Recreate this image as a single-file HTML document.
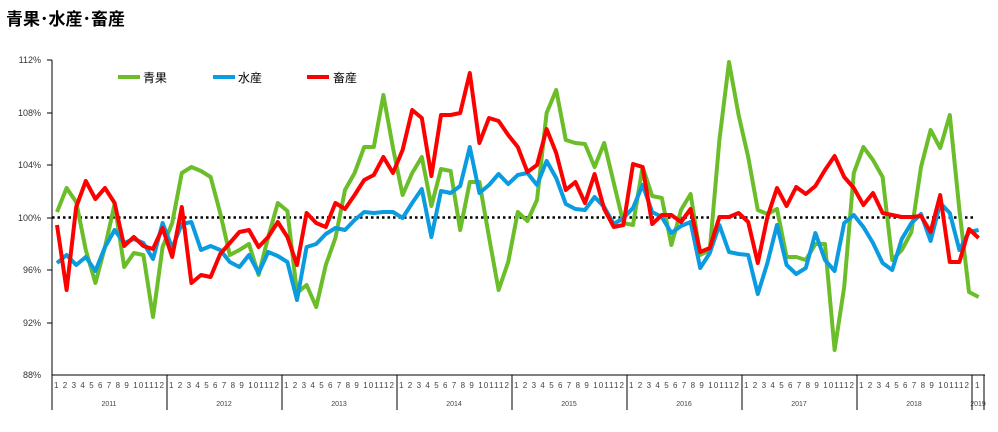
<!DOCTYPE html>
<html><head><meta charset="utf-8"><style>
body{margin:0;background:#fff;width:998px;height:427px;overflow:hidden}
text{font-family:"Liberation Sans","Noto Sans CJK JP",sans-serif}
</style></head><body>
<svg width="998" height="427" xmlns="http://www.w3.org/2000/svg">
<text x="6" y="25" font-size="17" font-weight="bold" fill="#000">青果･水産･畜産</text>
<g font-size="9" fill="#333" text-anchor="end">
<text x="41" y="63">112%</text><text x="41" y="116">108%</text><text x="41" y="168">104%</text>
<text x="41" y="221">100%</text><text x="41" y="273">96%</text><text x="41" y="326">92%</text><text x="41" y="378">88%</text>
</g>
<g stroke="#000" stroke-width="1">
<line x1="52" y1="60" x2="52" y2="410"/><line x1="52" y1="375" x2="985" y2="375"/>
<line x1="47" y1="60" x2="52" y2="60"/><line x1="47" y1="113" x2="52" y2="113"/><line x1="47" y1="165" x2="52" y2="165"/><line x1="47" y1="218" x2="52" y2="218"/><line x1="47" y1="270" x2="52" y2="270"/><line x1="47" y1="323" x2="52" y2="323"/>
<line x1="167" y1="375" x2="167" y2="410"/><line x1="282" y1="375" x2="282" y2="410"/><line x1="397" y1="375" x2="397" y2="410"/><line x1="512" y1="375" x2="512" y2="410"/><line x1="627" y1="375" x2="627" y2="410"/><line x1="742" y1="375" x2="742" y2="410"/><line x1="857" y1="375" x2="857" y2="410"/><line x1="972" y1="375" x2="972" y2="410"/><line x1="984" y1="375" x2="984" y2="410"/>
</g>
<g font-size="8" fill="#444">
<text x="54" y="388" textLength="110">1 2 3 4 5 6 7 8 9 101112</text>
<text x="169" y="388" textLength="110">1 2 3 4 5 6 7 8 9 101112</text>
<text x="284" y="388" textLength="110">1 2 3 4 5 6 7 8 9 101112</text>
<text x="399" y="388" textLength="110">1 2 3 4 5 6 7 8 9 101112</text>
<text x="514" y="388" textLength="110">1 2 3 4 5 6 7 8 9 101112</text>
<text x="629" y="388" textLength="110">1 2 3 4 5 6 7 8 9 101112</text>
<text x="744" y="388" textLength="110">1 2 3 4 5 6 7 8 9 101112</text>
<text x="859" y="388" textLength="110">1 2 3 4 5 6 7 8 9 101112</text>
<text x="975" y="388">1</text>
</g>
<g font-size="7" fill="#444" text-anchor="middle">
<text x="109" y="406">2011</text><text x="224" y="406">2012</text><text x="339" y="406">2013</text><text x="454" y="406">2014</text><text x="569" y="406">2015</text><text x="684" y="406">2016</text><text x="799" y="406">2017</text><text x="914" y="406">2018</text><text x="978" y="406">2019</text>
</g>
<line x1="52" y1="217.5" x2="975" y2="217.5" stroke="#000" stroke-width="2.5" stroke-dasharray="2.5,3"/>
<g transform="translate(57,0) scale(9.6,1)" fill="none" stroke-width="4" stroke-linejoin="round">
<polyline vector-effect="non-scaling-stroke" stroke="#6bbd2a" points="0,212 1,188 2,202 3,250 4,283 5,247 6,204 7,267 8,253 9,255 10,317 11,247 12,223 13,173 14,167 15,171 16,177 17,213 18,255 19,250 20,244 21,275 22,237 23,203 24,211 25,293 26,285 27,307 28,265 29,238 30,190 31,173 32,147 33,147 34,95 35,148 36,195 37,173 38,157 39,206 40,169 41,171 42,230 43,182 44,182 45,237 46,290 47,262 48,212 49,221 50,200 51,113 52,90 53,140 54,143 55,144 56,167 57,143 58,183 59,223 60,225 61,167 62,196 63,198 64,245 65,210 66,194 67,255 68,250 69,140 70,62 71,115 72,157 73,210 74,214 75,209 76,257 77,257 78,260 79,244 80,244 81,350 82,287 83,173 84,147 85,160 86,177 87,260 88,250 89,232 90,167 91,130 92,148 93,115 94,210 95,292 96,297"/>
<polyline vector-effect="non-scaling-stroke" stroke="#0a9be0" points="0,263 1,255 2,265 3,257 4,271 5,247 6,230 7,243 8,239 9,243 10,259 11,223 12,248 13,224 14,222 15,250 16,246 17,250 18,262 19,267 20,255 21,273 22,252 23,256 24,262 25,300 26,247 27,244 28,234 29,228 30,230 31,220 32,212 33,213 34,212 35,212 36,218 37,203 38,189 39,237 40,191 41,193 42,186 43,147 44,193 45,185 46,174 47,184 48,175 49,173 50,185 51,161 52,178 53,204 54,209 55,210 56,197 57,207 58,224 59,218 60,208 61,185 62,212 63,217 64,233 65,226 66,222 67,268 68,253 69,225 70,252 71,254 72,255 73,294 74,263 75,225 76,265 77,274 78,268 79,233 80,260 81,271 82,223 83,215 84,227 85,243 86,263 87,270 88,239 89,223 90,214 91,241 92,203 93,213 94,250 95,232 96,230"/>
<polyline vector-effect="non-scaling-stroke" stroke="#f00" points="0,225 1,290 2,207 3,181 4,199 5,188 6,203 7,246 8,237 9,246 10,249 11,228 12,257 13,207 14,283 15,275 16,277 17,254 18,243 19,232 20,230 21,247 22,237 23,222 24,237 25,265 26,213 27,223 28,227 29,203 30,209 31,195 32,180 33,175 34,157 35,173 36,150 37,110 38,118 39,176 40,115 41,115 42,113 43,73 44,143 45,118 46,121 47,135 48,147 49,172 50,165 51,129 52,153 53,190 54,182 55,203 56,174 57,209 58,227 59,225 60,164 61,167 62,224 63,215 64,215 65,222 66,209 67,252 68,248 69,217 70,217 71,213 72,222 73,263 74,217 75,188 76,206 77,187 78,194 79,186 80,170 81,156 82,177 83,188 84,205 85,193 86,213 87,215 88,217 89,217 90,216 91,232 92,195 93,262 94,262 95,229 96,238"/>
</g>
<g stroke-width="4">
<line x1="118" y1="77" x2="140" y2="77" stroke="#6bbd2a"/>
<line x1="213" y1="77" x2="235" y2="77" stroke="#0a9be0"/>
<line x1="307" y1="77" x2="329" y2="77" stroke="#f00"/>
</g>
<g font-size="12" fill="#000">
<text x="143" y="82">青果</text><text x="238" y="82">水産</text><text x="333" y="82">畜産</text>
</g>
</svg>
</body></html>
